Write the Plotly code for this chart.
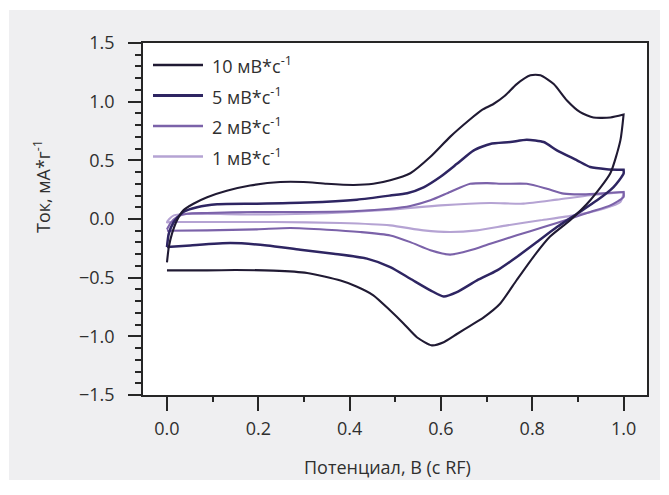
import plotly.graph_objects as go

# Cyclic voltammograms at four scan rates (forward scan, then reverse scan)
scan_labels = ["10 мВ*с<sup>-1</sup>", "5 мВ*с<sup>-1</sup>", "2 мВ*с<sup>-1</sup>", "1 мВ*с<sup>-1</sup>"]
line_colors = ["#201a33", "#2e2562", "#7b62a9", "#b5a3d3"]
line_widths = [2.1, 2.5, 2.1, 2.1]

e_10_fwd = [0.0, 0.004, 0.011, 0.022, 0.036, 0.058, 0.088, 0.131, 0.182, 0.248, 0.299, 0.350, 0.409,
            0.452, 0.489, 0.533, 0.577, 0.620, 0.664, 0.690, 0.715, 0.740, 0.766, 0.796, 0.818, 0.847,
            0.876, 0.905, 0.934, 0.971, 1.0]
i_10_fwd = [-0.37, -0.24, -0.125, -0.01, 0.075, 0.13, 0.185, 0.24, 0.285, 0.315, 0.315, 0.30, 0.29,
            0.30, 0.33, 0.39, 0.53, 0.70, 0.85, 0.93, 0.98, 1.05, 1.15, 1.225, 1.225, 1.15,
            1.01, 0.91, 0.865, 0.865, 0.89]
e_10_rev = [1.0, 0.993, 0.971, 0.927, 0.883, 0.839, 0.803, 0.766, 0.730, 0.693, 0.664, 0.635, 0.606,
            0.580, 0.548, 0.518, 0.489, 0.452, 0.415, 0.380, 0.307, 0.233, 0.15, 0.088, 0.0]
i_10_rev = [0.89, 0.67, 0.39, 0.16, -0.01, -0.15, -0.32, -0.52, -0.72, -0.84, -0.91, -0.98, -1.05,
            -1.077, -1.01, -0.89, -0.78, -0.65, -0.575, -0.525, -0.46, -0.44, -0.435, -0.438, -0.438]

e_5_fwd = [0.0, 0.004, 0.015, 0.036, 0.066, 0.11, 0.197, 0.307, 0.416, 0.489, 0.526, 0.562, 0.599,
           0.635, 0.672, 0.708, 0.752, 0.788, 0.825, 0.854, 0.898, 0.927, 0.963, 1.0]
i_5_fwd = [-0.24, -0.125, -0.026, 0.06, 0.10, 0.125, 0.13, 0.14, 0.165, 0.20, 0.22, 0.27, 0.36,
           0.47, 0.585, 0.64, 0.656, 0.676, 0.656, 0.585, 0.50, 0.443, 0.425, 0.42]
e_5_rev = [1.0, 1.0, 0.978, 0.942, 0.898, 0.854, 0.81, 0.766, 0.723, 0.679, 0.635, 0.606, 0.577,
           0.533, 0.489, 0.438, 0.365, 0.292, 0.219, 0.139, 0.051, 0.0]
i_5_rev = [0.42, 0.386, 0.272, 0.159, 0.045, -0.069, -0.197, -0.324, -0.438, -0.523, -0.623, -0.66, -0.608,
           -0.509, -0.41, -0.338, -0.296, -0.262, -0.225, -0.205, -0.225, -0.239]

e_2_fwd = [0.0, 0.007, 0.022, 0.044, 0.088, 0.197, 0.307, 0.416, 0.489, 0.533, 0.577, 0.62, 0.664,
           0.701, 0.737, 0.788, 0.832, 0.869, 0.912, 0.963, 1.0]
i_2_fwd = [-0.09, -0.04, 0.017, 0.045, 0.051, 0.06, 0.06, 0.068, 0.088, 0.111, 0.159, 0.23, 0.30,
           0.306, 0.30, 0.30, 0.258, 0.216, 0.21, 0.221, 0.23]
e_2_rev = [1.0, 1.0, 0.971, 0.927, 0.883, 0.825, 0.766, 0.708, 0.664, 0.62, 0.577, 0.533, 0.489,
           0.423, 0.35, 0.27, 0.197, 0.088, 0.0]
i_2_rev = [0.23, 0.187, 0.116, 0.06, 0.003, -0.069, -0.139, -0.21, -0.267, -0.304, -0.267, -0.197, -0.14,
           -0.111, -0.091, -0.077, -0.088, -0.097, -0.10]

e_1_fwd = [0.0, 0.005, 0.015, 0.051, 0.161, 0.307, 0.489, 0.599, 0.708, 0.781, 0.854, 0.927, 1.0]
i_1_fwd = [-0.03, 0.0, 0.031, 0.045, 0.039, 0.045, 0.08, 0.116, 0.136, 0.131, 0.165, 0.202, 0.23]
e_1_rev = [1.0, 1.0, 0.993, 0.956, 0.891, 0.818, 0.745, 0.679, 0.62, 0.562, 0.489, 0.38, 0.233,
           0.088, 0.007, 0.0]
i_1_rev = [0.23, 0.216, 0.145, 0.088, 0.031, -0.011, -0.054, -0.097, -0.111, -0.097, -0.054, -0.034, -0.026,
           -0.026, -0.026, -0.03]

x_ticks = [0.0, 0.2, 0.4, 0.6, 0.8, 1.0]
y_ticks = [-1.5, -1.0, -0.5, 0.0, 0.5, 1.0, 1.5]

loops = [
    (e_10_fwd + e_10_rev, i_10_fwd + i_10_rev),
    (e_5_fwd + e_5_rev, i_5_fwd + i_5_rev),
    (e_2_fwd + e_2_rev, i_2_fwd + i_2_rev),
    (e_1_fwd + e_1_rev, i_1_fwd + i_1_rev),
]

W, H = 669, 495
ML, MR, MT, MB = 143, 22, 43, 100
PW, PH = W - ML - MR, H - MT - MB
FONT = "Open Sans"
INK = "#2f2f2f"


def px_x(p):
    return (p - ML) / PW


def px_y(p):
    return (H - MB - p) / PH


fig = go.Figure()
# draw lighter curves first so the darker ones sit on top
for k in reversed(range(len(loops))):
    xs, ys = loops[k]
    fig.add_trace(go.Scatter(
        x=xs, y=ys, mode="lines", name=scan_labels[k], showlegend=False,
        line=dict(color=line_colors[k], width=line_widths[k], shape="spline", smoothing=0.6),
    ))

shapes = [
    # light card behind the figure
    dict(type="rect", xref="paper", yref="paper", layer="below",
         x0=px_x(9), x1=px_x(660), y0=px_y(480), y1=px_y(10),
         fillcolor="#efeff1", line=dict(width=0)),
    # white plotting field
    dict(type="rect", xref="paper", yref="paper", layer="below",
         x0=0, x1=1, y0=0, y1=1, fillcolor="#ffffff", line=dict(width=0)),
]
annotations = []

# legend: sample line + label per scan rate
row_y = [65, 95.5, 126, 156.5]
for k, lab in enumerate(scan_labels):
    shapes.append(dict(type="line", xref="paper", yref="paper",
                       x0=px_x(153), x1=px_x(203), y0=px_y(row_y[k]), y1=px_y(row_y[k]),
                       line=dict(color=line_colors[k], width=line_widths[k] + 0.4)))
    annotations.append(dict(xref="paper", yref="paper", x=px_x(210), y=px_y(row_y[k]),
                            xanchor="left", yanchor="middle", showarrow=False, text=lab,
                            font=dict(family=FONT, size=18, color=INK)))

annotations.append(dict(xref="paper", yref="paper", x=px_x(387), y=px_y(467),
                        xanchor="center", yanchor="middle", showarrow=False,
                        text="Потенциал, В (с RF)",
                        font=dict(family=FONT, size=18, color=INK)))
annotations.append(dict(xref="paper", yref="paper", x=px_x(42), y=px_y(187),
                        xanchor="center", yanchor="middle", showarrow=False, textangle=-90,
                        text="Ток, мА*г<sup>-1</sup>",
                        font=dict(family=FONT, size=18, color=INK)))

axis_common = dict(
    showgrid=False, zeroline=False, showline=True, mirror=True,
    linecolor="#262626", linewidth=1.7,
    ticks="outside", tickcolor="#262626", tickwidth=1.7,
    tickfont=dict(family=FONT, size=18, color=INK),
    tickformat=".1f",
)

fig.update_xaxes(range=[-0.0525, 1.0513], tickvals=x_ticks, ticklen=14, ticklabelstandoff=3,
                 minor=dict(dtick=0.1, tick0=0, ticks="outside", ticklen=5,
                            tickcolor="#262626", tickwidth=1.5),
                 **axis_common)
fig.update_yaxes(range=[-1.5, 1.5], tickvals=y_ticks, ticklen=13, ticklabelstandoff=10,
                 minor=dict(dtick=0.1, tick0=0, ticks="outside", ticklen=6,
                            tickcolor="#262626", tickwidth=1.5),
                 **axis_common)

fig.update_layout(
    width=W, height=H,
    margin=dict(l=ML, r=MR, t=MT, b=MB),
    paper_bgcolor="#ffffff", plot_bgcolor="#ffffff",
    shapes=shapes, annotations=annotations,
    font=dict(family=FONT),
)

fig.write_html("out.html", config={"displayModeBar": False})
